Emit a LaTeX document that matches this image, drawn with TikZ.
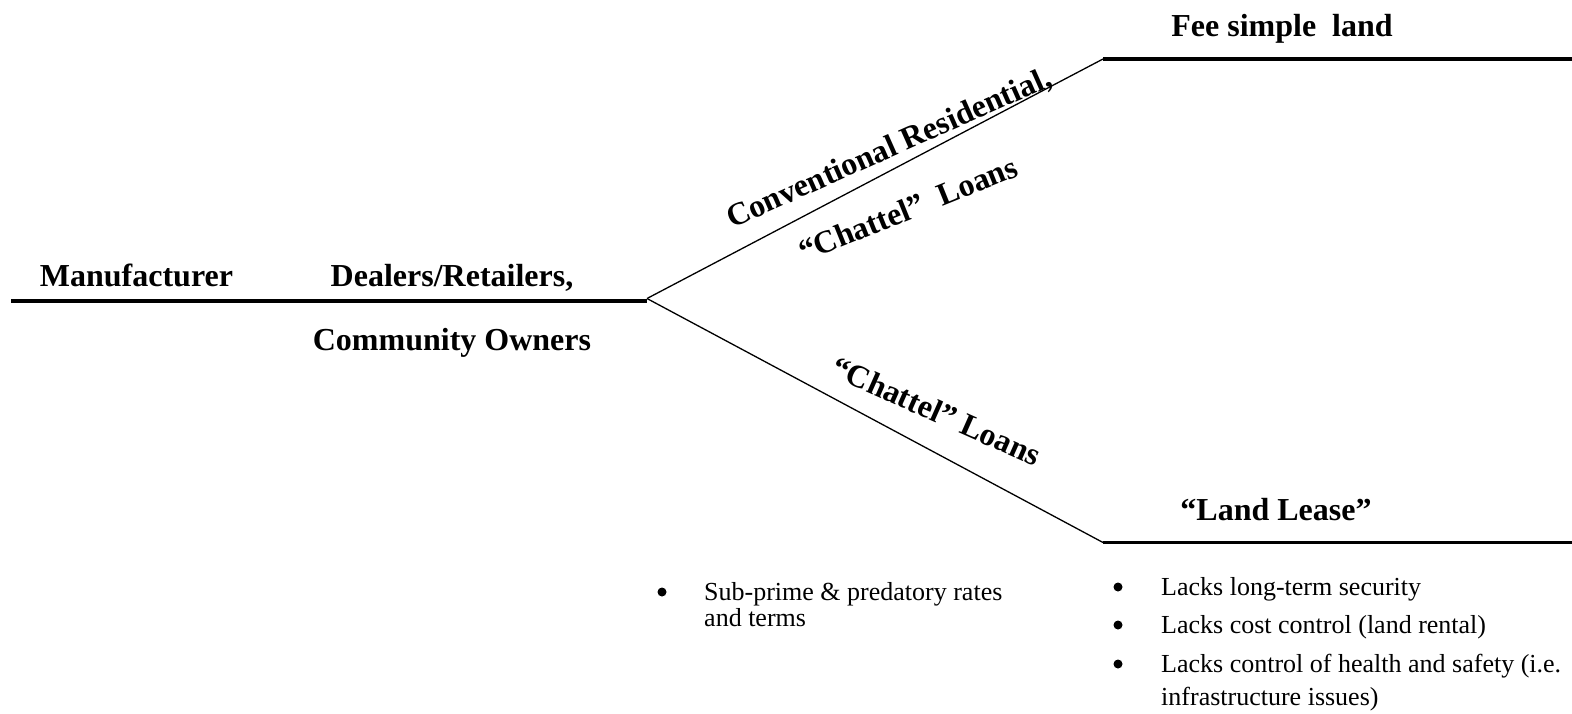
\documentclass[tikz,border=0pt]{standalone}
\usepackage{fontspec}
\setmainfont{Liberation Serif}
\begin{document}
\begin{tikzpicture}[x=1pt,y=-1pt,
  heading/.style={font=\fontsize{32}{38}\selectfont\bfseries, inner sep=0pt, anchor=base},
  itemtext/.style={font=\fontsize{26}{33}\selectfont, inner sep=0pt, anchor=base west},
  bulletmark/.style={circle, fill=black, draw=none, inner sep=0pt, minimum size=9pt},
  trunk/.style={line width=4pt},
  branch/.style={line width=1.3pt},
  rail/.style={line width=3.3pt}]
\useasboundingbox (0,0) rectangle (1572,713);

% path end points
\coordinate (trunkL) at (11,300.5);
\coordinate (trunkR) at (647,300.5);
\coordinate (fork)   at (647,298.5);
\coordinate (upJ)    at (1103,59);
\coordinate (upE)    at (1572,59);
\coordinate (loJ)    at (1103,542.5);
\coordinate (loE)    at (1572,542.5);

% lines
\draw[trunk] (trunkL) -- (trunkR);
\draw[branch] (fork) -- (upJ);
\draw[branch] (fork) -- (loJ);
\draw[rail] (upJ) -- (upE);
\draw[rail] (loJ) -- (loE);

% headings
\node[heading] (manu)    at (136.5,286) {Manufacturer};
\node[heading] (dealers) at (452,286) {Dealers/Retailers,};
\node[heading] (owners)  at (452,350) {Community Owners};
\node[heading] (fee)     at (1282,36) {Fee simple~~land};
\node[heading] (lease)   at (1276,520) {“Land Lease”};

% branch labels
\node[heading, rotate=24]  (conv)  at (893,157) {Conventional Residential,};
\node[heading, rotate=22]  (chatU) at (912,219) {“Chattel”~~Loans};
\node[heading, rotate=-24] (chatL) at (932,421) {“Chattel” Loans};

% chattel loan notes
\node[bulletmark] (b1) at (662,592) {};
\node[itemtext] (t1a) at (704,600) {Sub-prime \& predatory rates};
\node[itemtext] (t1b) at (704,626) {and terms};

% land lease notes
\node[bulletmark] (b2) at (1118,587) {};
\node[itemtext] (t2) at (1161,595) {Lacks long-term security};
\node[bulletmark] (b3) at (1118,625) {};
\node[itemtext] (t3) at (1161,633) {Lacks cost control (land rental)};
\node[bulletmark] (b4) at (1118,664) {};
\node[itemtext] (t4a) at (1161,672) {Lacks control of health and safety (i.e.};
\node[itemtext] (t4b) at (1161,705) {infrastructure issues)};
\end{tikzpicture}
\end{document}
